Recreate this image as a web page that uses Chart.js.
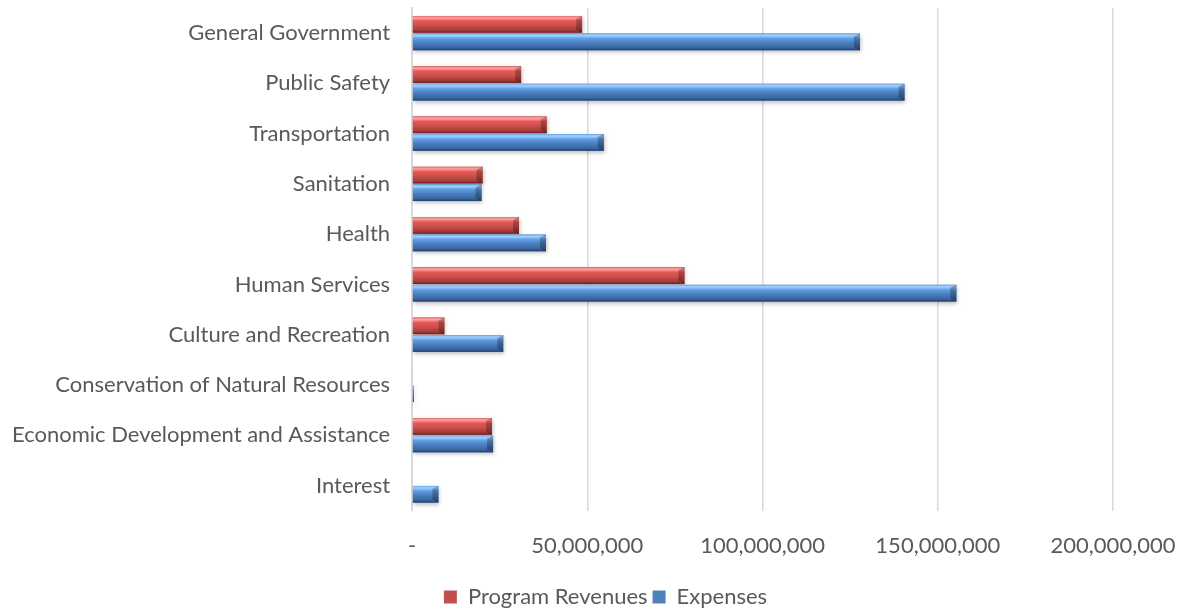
<!DOCTYPE html>
<html>
<head>
<meta charset="utf-8">
<script src="https://cdn.jsdelivr.net/npm/chart.js@4.4.1/dist/chart.umd.min.js"></script>
<style>
  html, body { margin: 0; padding: 0; background: #fff; }
  #wrap { width: 1182px; height: 609px; }
</style>
</head>
<body>
<div id="wrap"><canvas id="myChart" width="1182" height="609"></canvas></div>
<script>
const categories = [
    'General Government', 'Public Safety', 'Transportation', 'Sanitation', 'Health',
    'Human Services', 'Culture and Recreation', 'Conservation of Natural Resources',
    'Economic Development and Assistance', 'Interest'
];
const programRevenues = [48.5e6, 31.1e6, 38.4e6, 20.1e6, 30.5e6, 77.7e6, 9.2e6, 0.2e6, 22.8e6, 0];
const expenses = [127.8e6, 140.5e6, 54.7e6, 19.8e6, 38.2e6, 155.3e6, 26.0e6, 0.5e6, 23.1e6, 7.5e6];
const xTicks = [0, 50e6, 100e6, 150e6, 200e6];

// bevel look: light top edge, dark bottom edge
const shades = {
    red: ['#E66A67', '#FFA3A0', '#E65855', '#CC504D', '#A63C39', '#6A1F1E'],
    blue: ['#6FA8EA', '#A3D0FF', '#5F9DE2', '#4A7FC1', '#3A65A0', '#1F3D66']
};

const bevelPlugin = {
    id: 'bevel',
    afterLayout(chart) {
        // legend sits a bit right of canvas centre in the original
        chart.legend.left += 54;
        chart.legend.right += 54;
    },
    beforeDatasetsDraw(chart) {
        const ctx = chart.ctx;
        ctx.save();
        ctx.shadowColor = 'rgba(0,0,0,0.25)';
        ctx.shadowBlur = 4;
        ctx.shadowOffsetY = 2;
        ctx.shadowOffsetX = 1;
    },
    afterDatasetsDraw(chart) {
        const ctx = chart.ctx;
        ctx.restore();
        chart.data.datasets.forEach((ds, i) => {
            const s = shades[ds.shade];
            chart.getDatasetMeta(i).data.forEach(bar => {
                const p = bar.getProps(['x', 'y', 'base', 'height'], true);
                const w = p.x - p.base;
                if (w < 1) return;
                const top = p.y - p.height / 2;
                const g = ctx.createLinearGradient(0, top, 0, top + p.height);
                g.addColorStop(0, s[0]);
                g.addColorStop(0.12, s[1]);
                g.addColorStop(0.3, s[2]);
                g.addColorStop(0.55, s[3]);
                g.addColorStop(0.85, s[4]);
                g.addColorStop(1, s[5]);
                ctx.fillStyle = g;
                ctx.fillRect(p.base, top, w, p.height);
                // right end bevel
                const e = Math.min(6, w / 2);
                ctx.fillStyle = 'rgba(0,0,0,0.25)';
                ctx.beginPath();
                ctx.moveTo(p.x - e, top + 3);
                ctx.lineTo(p.x, top);
                ctx.lineTo(p.x, top + p.height);
                ctx.lineTo(p.x - e, top + p.height - 3);
                ctx.closePath();
                ctx.fill();
            });
        });
    }
};

const ctx = document.getElementById('myChart').getContext('2d');
new Chart(ctx, {
    type: 'bar',
    data: {
        labels: categories,
        datasets: [{
            label: 'Program Revenues',
            data: programRevenues,
            backgroundColor: '#C0504D',
            shade: 'red',
            borderWidth: 0
        }, {
            label: 'Expenses',
            data: expenses,
            backgroundColor: '#4F81BD',
            shade: 'blue',
            borderWidth: 0
        }]
    },
    options: {
        indexAxis: 'y',
        responsive: false,
        animation: false,
        categoryPercentage: 0.7,
        barPercentage: 0.95,
        layout: { padding: { left: -10, right: 69, top: 8, bottom: -9 } },
        scales: {
            x: {
                min: 0,
                max: 200e6,
                afterBuildTicks: axis => { axis.ticks = xTicks.map(v => ({ value: v })); },
                afterFit: axis => { axis.paddingLeft = 0; axis.paddingRight = 0; },
                grid: { color: '#D9D9D9', lineWidth: 1.5, drawTicks: false },
                border: { display: false },
                ticks: {
                    padding: 22,
                    color: '#595959',
                    font: { family: 'Lato', size: 22 },
                    callback: v => v === 0 ? '-' : v.toLocaleString('en-US')
                }
            },
            y: {
                afterFit: axis => { axis.paddingTop = 0; axis.paddingBottom = 0; },
                grid: { display: false, drawTicks: false },
                border: { display: true, color: '#D9D9D9', width: 2 },
                ticks: {
                    padding: 22,
                    color: '#595959',
                    font: { family: 'Lato', size: 22 }
                }
            }
        },
        plugins: {
            legend: {
                position: 'bottom',
                labels: {
                    boxWidth: 13,
                    boxHeight: 13,
                    padding: 5,
                    color: '#595959',
                    font: { family: 'Lato', size: 22 }
                }
            },
            tooltip: { enabled: false }
        }
    },
    plugins: [bevelPlugin]
});
</script>
</body>
</html>
